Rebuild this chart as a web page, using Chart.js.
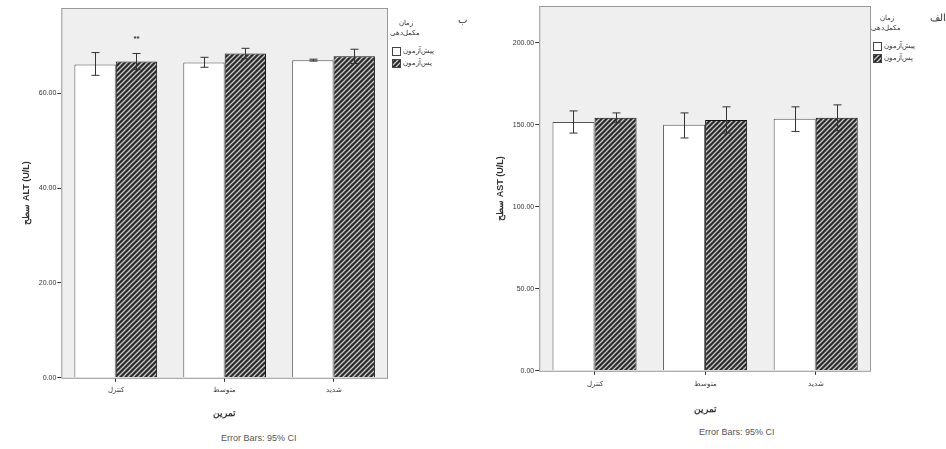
<!DOCTYPE html>
<html>
<head>
<meta charset="utf-8">
<script src="https://cdn.jsdelivr.net/npm/chart.js@4.4.1/dist/chart.umd.min.js"></script>
<style>
  body { margin: 0; background: #fff; width: 946px; height: 449px; overflow: hidden; position: relative; font-family: "Liberation Sans", Arial, sans-serif; }
  canvas { position: absolute; top: 0; }
  .txt { position: absolute; color: #333; white-space: nowrap; }
  .legend { position: absolute; font-size: 7px; color: #333; line-height: 10px; }
  .legend .row { display: flex; align-items: center; height: 12px; }
  .box { width: 7px; height: 7px; border: 1px solid #444; margin-right: 2px; }
  .caption { font-size: 9px; color: #555; }
</style>
</head>
<body>
<canvas id="altChart" width="400" height="423" style="left:0"></canvas>
<canvas id="astChart" width="400" height="419" style="left:478px"></canvas>

<div class="legend" style="left:392px;top:18px">
  <div style="direction:rtl;text-align:center;width:28px">زمان<br>مکمل‌دهی</div>
  <div class="row" style="margin-top:7px"><div class="box" style="background:#fff"></div><span>پیش‌آزمون</span></div>
  <div class="row"><div class="box hatch"></div><span>پس‌آزمون</span></div>
</div>
<div class="legend" style="left:873px;top:13px">
  <div style="direction:rtl;text-align:center;width:28px">زمان<br>مکمل‌دهی</div>
  <div class="row" style="margin-top:7px"><div class="box" style="background:#fff"></div><span>پیش‌آزمون</span></div>
  <div class="row"><div class="box hatch"></div><span>پس‌آزمون</span></div>
</div>

<div class="txt" style="left:458px;top:14px;font-size:10px">ب</div>
<div class="txt" style="left:930px;top:12px;font-size:10px">الف</div>
<div class="txt caption" style="left:221px;top:433px">Error Bars: 95% CI</div>
<div class="txt caption" style="left:699px;top:427px">Error Bars: 95% CI</div>

<script>
// categories and series
let groups = ["کنترل", "متوسط", "شدید"];
let seriesNames = ["پیش‌آزمون", "پس‌آزمون"];

let altPre = [66.1, 66.5, 67.0];
let altPost = [66.7, 68.4, 67.8];
let altPreLow = [63.8, 65.5, 66.8];
let altPreHigh = [68.6, 67.6, 67.2];
let altPostLow = [65.0, 67.3, 66.3];
let altPostHigh = [68.4, 69.5, 69.3];
let altMarks = ["**", "", ""];

let astPre = [151.8, 150.0, 153.7];
let astPost = [154.3, 153.0, 154.3];
let astPreLow = [145.0, 142.0, 146.0];
let astPreHigh = [158.5, 157.3, 161.0];
let astPostLow = [151.3, 145.0, 146.4];
let astPostHigh = [157.3, 161.0, 162.2];

// diagonal hatch like the SPSS fill
function makeHatch() {
    let c = document.createElement('canvas');
    c.width = 5; c.height = 5;
    let g = c.getContext('2d');
    g.fillStyle = '#2b2b2b';
    g.fillRect(0, 0, 5, 5);
    g.strokeStyle = '#c8c8c8';
    g.lineWidth = 1.3;
    g.beginPath();
    g.moveTo(-1, 6); g.lineTo(6, -1);
    g.moveTo(-1, 1); g.lineTo(1, -1);
    g.moveTo(4, 6); g.lineTo(6, 4);
    g.stroke();
    return c;
}
let hatchCanvas = makeHatch();
document.querySelectorAll('.hatch').forEach(el => {
    el.style.backgroundImage = `url(${hatchCanvas.toDataURL()})`;
});

// grey plot background + frame
const plotBackground = {
    id: 'plotBackground',
    beforeDraw(chart) {
        let { ctx, chartArea: a } = chart;
        ctx.save();
        ctx.fillStyle = '#efefef';
        ctx.fillRect(a.left, a.top, a.right - a.left, a.bottom - a.top);
        ctx.restore();
    },
    afterDraw(chart) {
        let { ctx, chartArea: a } = chart;
        ctx.save();
        ctx.strokeStyle = '#999';
        ctx.lineWidth = 1;
        ctx.strokeRect(a.left + 0.5, a.top + 0.5, a.right - a.left - 1, a.bottom - a.top);
        ctx.restore();
    }
};

// 95% CI whiskers and significance marks
const errorBars = {
    id: 'errorBars',
    afterDatasetsDraw(chart) {
        let ctx = chart.ctx;
        let y = chart.scales.y;
        ctx.save();
        ctx.strokeStyle = '#333';
        ctx.lineWidth = 1;
        chart.data.datasets.forEach((ds, i) => {
            let meta = chart.getDatasetMeta(i);
            meta.data.forEach((bar, j) => {
                let x = Math.round(bar.x) + 0.5;
                let top = y.getPixelForValue(ds.errHigh[j]);
                let bot = y.getPixelForValue(ds.errLow[j]);
                ctx.beginPath();
                ctx.moveTo(x, top); ctx.lineTo(x, bot);
                ctx.moveTo(x - 4, top); ctx.lineTo(x + 4, top);
                ctx.moveTo(x - 4, bot); ctx.lineTo(x + 4, bot);
                ctx.stroke();
                if (ds.marks && ds.marks[j]) {
                    ctx.fillStyle = '#333';
                    ctx.font = 'bold 8px "Liberation Sans", Arial';
                    ctx.textAlign = 'center';
                    ctx.fillText(ds.marks[j], x, top - 13);
                }
            });
        });
        ctx.restore();
    }
};

function makeChart(id, title, pre, post, preLow, preHigh, postLow, postHigh, marks, max, step, pad, tickPad, titlePad) {
    let ctx = document.getElementById(id).getContext('2d');
    let pattern = ctx.createPattern(hatchCanvas, 'repeat');
    return new Chart(ctx, {
        type: 'bar',
        data: {
            labels: groups,
            datasets: [{
                label: seriesNames[0],
                data: pre,
                errLow: preLow,
                errHigh: preHigh,
                backgroundColor: '#ffffff',
                borderColor: '#555',
                borderWidth: 1,
                borderSkipped: 'bottom'
            }, {
                label: seriesNames[1],
                data: post,
                errLow: postLow,
                errHigh: postHigh,
                marks: marks,
                backgroundColor: pattern,
                borderColor: '#111',
                borderWidth: 1,
                borderSkipped: 'bottom'
            }]
        },
        options: {
            responsive: false,
            animation: false,
            layout: { padding: pad },
            categoryPercentage: 0.76,
            barPercentage: 1.0,
            plugins: { legend: { display: false }, tooltip: { enabled: false } },
            scales: {
                x: {
                    grid: { offset: false, drawOnChartArea: false, tickLength: 4, color: '#333' },
                    border: { display: false },
                    ticks: { color: '#333', font: { size: 7 }, padding: tickPad },
                    title: { display: true, text: 'تمرین', color: '#333', font: { size: 9, weight: 'bold' }, padding: { top: titlePad } }
                },
                y: {
                    min: 0,
                    max: max,
                    grid: { drawOnChartArea: false, tickLength: 4, color: '#333' },
                    border: { display: false },
                    ticks: {
                        stepSize: step,
                        includeBounds: false,
                        color: '#333',
                        font: { size: 7 },
                        padding: 1,
                        callback: v => v.toFixed(2)
                    },
                    title: { display: true, text: title, color: '#333', font: { size: 9, weight: 'bold' }, padding: { bottom: 6 } }
                }
            }
        },
        plugins: [plotBackground, errorBars]
    });
}

makeChart('altChart', 'سطح ALT (U/L)', altPre, altPost, altPreLow, altPreHigh, altPostLow, altPostHigh,
    altMarks, 78, 20, { left: 17, right: 12, top: 8, bottom: 0 }, 4, 10);
makeChart('astChart', 'سطح AST (U/L)', astPre, astPost, astPreLow, astPreHigh, astPostLow, astPostHigh,
    ["", "", ""], 222.5, 50, { left: 13, right: 7, top: 6, bottom: 0 }, 5, 11);
</script>
</body>
</html>
